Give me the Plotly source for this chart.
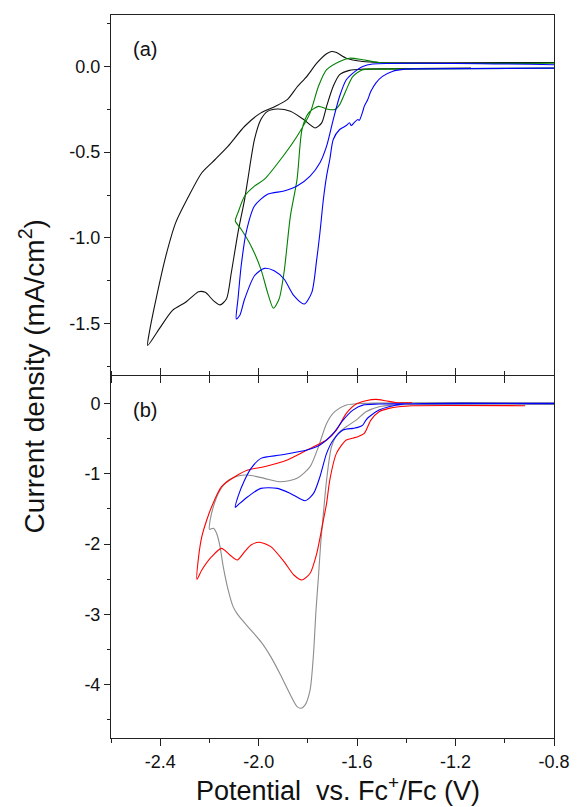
import plotly.graph_objects as go

# ---------------- data ----------------
# Panel (a)
a_black_x = [-0.8, -1.511, -1.577, -1.644, -1.684, -1.704, -1.724, -1.764, -1.804, -1.844, -1.884, -1.937,
             -1.991, -2.057, -2.124, -2.177, -2.231, -2.284, -2.337, -2.377, -2.417, -2.444, -2.451, -2.404,
             -2.351, -2.297, -2.244, -2.217, -2.184, -2.157, -2.131, -2.111, -2.084, -2.057, -2.044, -2.017,
             -1.991, -1.964, -1.924, -1.871, -1.817, -1.771, -1.744, -1.724, -1.697, -1.671, -1.631, -1.577,
             -1.484, -1.137]
a_black_y = [0.023, 0.023, 0.029, 0.048, 0.081, 0.087, 0.074, 0.019, -0.058, -0.120, -0.194, -0.236,
             -0.271, -0.349, -0.465, -0.543, -0.620, -0.756, -0.911, -1.105, -1.357, -1.550, -1.628, -1.531,
             -1.424, -1.376, -1.314, -1.318, -1.366, -1.391, -1.357, -1.202, -0.969, -0.775, -0.659, -0.426,
             -0.310, -0.262, -0.248, -0.262, -0.310, -0.359, -0.329, -0.233, -0.116, -0.048, -0.023, -0.016,
             -0.014, -0.010]

a_green_x = [-0.8, -1.511, -1.577, -1.631, -1.671, -1.724, -1.757, -1.791, -1.844, -1.911, -1.977, -2.017,
             -2.057, -2.084, -2.095, -2.071, -2.031, -1.991, -1.964, -1.940, -1.917, -1.897, -1.871, -1.844,
             -1.824, -1.797, -1.757, -1.724, -1.691, -1.671, -1.644, -1.617, -1.577, -1.511, -0.8]
a_green_y = [0.019, 0.023, 0.039, 0.048, 0.029, -0.019, -0.116, -0.271, -0.407, -0.543, -0.659, -0.698,
             -0.756, -0.853, -0.901, -0.950, -1.047, -1.182, -1.318, -1.411, -1.357, -1.202, -0.872, -0.659,
             -0.368, -0.271, -0.233, -0.248, -0.252, -0.223, -0.136, -0.058, -0.019, -0.016, -0.010]

a_blue_x = [-0.8, -1.537, -1.577, -1.617, -1.644, -1.671, -1.697, -1.724, -1.751, -1.791, -1.844, -1.897,
            -1.964, -2.017, -2.051, -2.071, -2.084, -2.091, -2.077, -2.057, -2.017, -1.977, -1.937, -1.897,
            -1.857, -1.815, -1.784, -1.764, -1.751, -1.737, -1.724, -1.711, -1.697, -1.671, -1.644, -1.631,
            -1.624, -1.611, -1.597, -1.591, -1.577, -1.571, -1.564, -1.557, -1.544, -1.524, -1.497, -1.457,
            -1.404, -1.357, -0.8]
a_blue_y = [0.010, 0.014, 0.0, -0.039, -0.078, -0.174, -0.310, -0.465, -0.562, -0.640, -0.698, -0.727,
            -0.746, -0.814, -0.969, -1.163, -1.357, -1.473, -1.453, -1.357, -1.221, -1.178, -1.192, -1.240,
            -1.337, -1.386, -1.318, -1.124, -0.969, -0.775, -0.640, -0.543, -0.426, -0.368, -0.345, -0.329,
            -0.345, -0.326, -0.310, -0.314, -0.262, -0.233, -0.213, -0.194, -0.145, -0.097, -0.058, -0.029,
            -0.016, -0.014, -0.010]

# Panel (b)
b_gray_x = [-0.8, -1.577, -1.644, -1.691, -1.724, -1.757, -1.791, -1.844, -1.911, -1.977, -2.044, -2.084,
            -2.131, -2.164, -2.184, -2.197, -2.200, -2.184, -2.171, -2.157, -2.144, -2.124, -2.104, -2.084,
            -2.044, -1.991, -1.951, -1.911, -1.871, -1.844, -1.828, -1.811, -1.791, -1.777, -1.767, -1.757,
            -1.748, -1.737, -1.724, -1.704, -1.677, -1.644, -1.604, -1.564, -1.511, -1.457, -0.8]
b_gray_y = [0.009, 0.0, -0.024, -0.118, -0.284, -0.616, -0.900, -1.066, -1.114, -1.066, -1.019, -1.033,
            -1.114, -1.280, -1.469, -1.659, -1.791, -1.777, -1.848, -2.038, -2.322, -2.654, -2.891, -3.009,
            -3.175, -3.389, -3.602, -3.863, -4.147, -4.313, -4.336, -4.289, -4.076, -3.555, -2.938, -2.464,
            -1.991, -1.564, -1.090, -0.616, -0.427, -0.332, -0.237, -0.118, -0.047, -0.024, -0.014]

b_red_x = [-1.377, -1.444, -1.484, -1.524, -1.564, -1.604, -1.644, -1.684, -1.724, -1.777, -1.884, -1.977,
           -2.044, -2.097, -2.151, -2.191, -2.211, -2.231, -2.244, -2.251, -2.231, -2.191, -2.151, -2.117,
           -2.087, -2.057, -2.031, -1.997, -1.951, -1.897, -1.857, -1.824, -1.791, -1.764, -1.737, -1.724,
           -1.711, -1.684, -1.644, -1.604, -1.571, -1.544, -1.511, -1.471, -1.431, -1.377, -0.917]
b_red_y = [0.009, 0.014, 0.038, 0.057, 0.038, -0.009, -0.142, -0.379, -0.521, -0.616, -0.806, -0.900,
           -0.948, -1.043, -1.185, -1.469, -1.659, -1.896, -2.180, -2.502, -2.370, -2.180, -2.062, -2.156,
           -2.227, -2.109, -2.014, -1.976, -2.038, -2.251, -2.441, -2.512, -2.417, -2.133, -1.659, -1.422,
           -1.090, -0.711, -0.521, -0.483, -0.427, -0.237, -0.118, -0.071, -0.047, -0.033, -0.033]

b_blue_x = [-0.8, -1.511, -1.577, -1.617, -1.657, -1.697, -1.751, -1.804, -1.911, -1.991, -2.031, -2.057,
            -2.084, -2.095, -2.077, -2.044, -1.991, -1.924, -1.871, -1.811, -1.777, -1.751, -1.724, -1.697,
            -1.657, -1.617, -1.597, -1.577, -1.564, -1.551, -1.511, -1.471, -1.404, -0.8]
b_blue_y = [0.0, -0.009, -0.024, -0.095, -0.237, -0.427, -0.592, -0.664, -0.735, -0.782, -0.924, -1.090,
            -1.327, -1.479, -1.422, -1.327, -1.209, -1.209, -1.280, -1.384, -1.280, -1.043, -0.711, -0.521,
            -0.379, -0.355, -0.341, -0.308, -0.237, -0.190, -0.095, -0.047, -0.009, -0.005]

# Tick labels
x_tickvals = [-2.4, -2.0, -1.6, -1.2, -0.8]
x_ticktext = ["-2.4", "-2.0", "-1.6", "-1.2", "-0.8"]
x_minorvals = [-2.6, -2.2, -1.8, -1.4, -1.0]
ya_tickvals = [0.0, -0.5, -1.0, -1.5]
ya_ticktext = ["0.0", "-0.5", "-1.0", "-1.5"]
ya_minorvals = [0.25, -0.25, -0.75, -1.25, -1.75]
yb_tickvals = [0, -1, -2, -3, -4]
yb_ticktext = ["0", "-1", "-2", "-3", "-4"]
yb_minorvals = [-0.5, -1.5, -2.5, -3.5, -4.5]

# ---------------- figure ----------------
FONT = "Liberation Sans, Arial, sans-serif"
LW = 1.1
SM = 0.7

fig = go.Figure()
for xs, ys, col in [(a_black_x, a_black_y, "#111111"),
                    (a_green_x, a_green_y, "#008000"),
                    (a_blue_x, a_blue_y, "#0000ff")]:
    fig.add_trace(go.Scatter(x=xs, y=ys, mode="lines", xaxis="x", yaxis="y",
                             line=dict(color=col, width=LW, shape="spline", smoothing=SM),
                             showlegend=False, hoverinfo="skip"))
for xs, ys, col in [(b_gray_x, b_gray_y, "#8c8c8c"),
                    (b_red_x, b_red_y, "#ff0000"),
                    (b_blue_x, b_blue_y, "#0000ff")]:
    fig.add_trace(go.Scatter(x=xs, y=ys, mode="lines", xaxis="x2", yaxis="y2",
                             line=dict(color=col, width=LW, shape="spline", smoothing=SM),
                             showlegend=False, hoverinfo="skip"))

PH = 723.0
split_a = 363.0 / PH
split_b = 362.0 / PH
axcol = "#222222"
common = dict(showgrid=False, zeroline=False, showline=True, linecolor=axcol, linewidth=1,
              tickcolor=axcol, tickwidth=1, tickfont=dict(family=FONT, size=18, color="#111"))

fig.update_layout(
    width=582, height=807,
    margin=dict(l=111, r=23, t=15, b=69),
    paper_bgcolor="white", plot_bgcolor="white",
    xaxis=dict(domain=[0, 1], anchor="y", range=[-2.6, -0.8], ticks="outside", ticklen=7,
               tickmode="array", tickvals=x_tickvals, showticklabels=False, mirror=True,
               minor=dict(tickmode="array", tickvals=x_minorvals, ticks="outside", ticklen=7,
                          tickcolor=axcol), **common),
    yaxis=dict(domain=[split_a, 1], anchor="x", range=[-1.8, 0.3], ticks="outside", ticklen=6,
               tickmode="array", tickvals=ya_tickvals, ticktext=ya_ticktext, mirror=True,
               minor=dict(tickmode="array", tickvals=ya_minorvals, ticks="outside", ticklen=3,
                          tickcolor=axcol), **common),
    xaxis2=dict(domain=[0, 1], anchor="y2", range=[-2.6, -0.8], ticks="outside", ticklen=7,
                tickmode="array", tickvals=x_tickvals, ticktext=x_ticktext, mirror="ticks",
                minor=dict(tickmode="array", tickvals=x_minorvals, ticks="outside", ticklen=4,
                           tickcolor=axcol), **common),
    yaxis2=dict(domain=[0, split_b], anchor="x2", range=[-4.76, 0.39], ticks="outside", ticklen=6,
                tickmode="array", tickvals=yb_tickvals, ticktext=yb_ticktext, mirror=True,
                minor=dict(tickmode="array", tickvals=yb_minorvals, ticks="outside", ticklen=3,
                           tickcolor=axcol), **common),
    annotations=[
        dict(text="Potential\u00a0 vs. Fc<sup>+</sup>/Fc (V)", xref="paper", yref="paper",
             x=0.512, y=-0.071, xanchor="center", yanchor="middle", showarrow=False,
             font=dict(family=FONT, size=27, color="#111")),
        dict(text="Current density (mA/cm<sup>2</sup>)", xref="paper", yref="paper",
             x=-0.1786, y=0.50, xanchor="center", yanchor="middle", textangle=-90, showarrow=False,
             font=dict(family=FONT, size=28, color="#111")),
        dict(text="(a)", xref="paper", yref="paper", x=0.0759, y=0.953, xanchor="center",
             yanchor="middle", showarrow=False, font=dict(family=FONT, size=20, color="#111")),
        dict(text="(b)", xref="paper", yref="paper", x=0.0759, y=0.4537, xanchor="center",
             yanchor="middle", showarrow=False, font=dict(family=FONT, size=20, color="#111")),
    ],
)

fig.write_html("out.html")
